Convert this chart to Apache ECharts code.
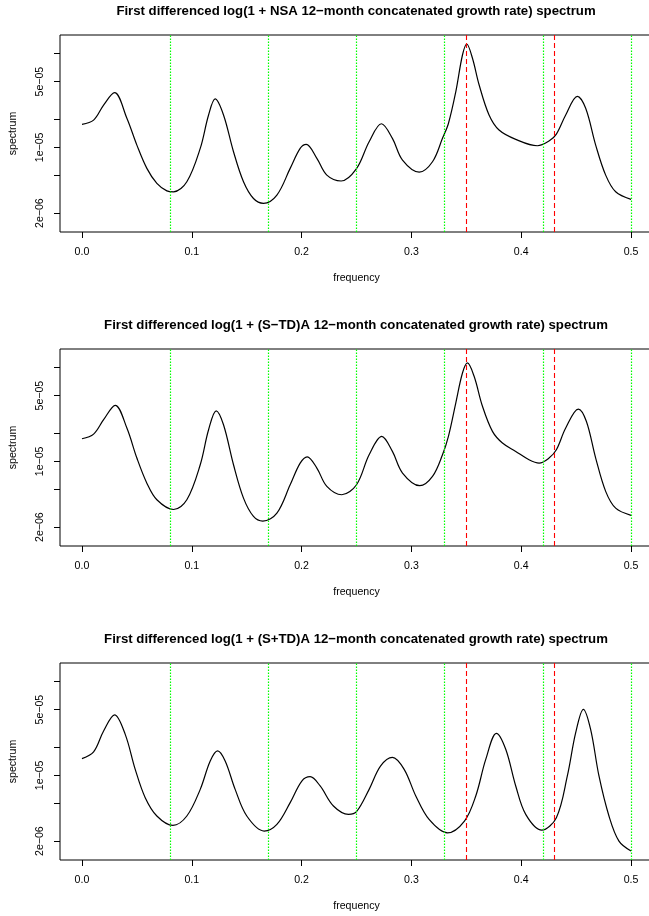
<!DOCTYPE html>
<html>
<head>
<meta charset="utf-8">
<script src="https://cdn.jsdelivr.net/npm/echarts@6/dist/echarts.min.js"></script>
<style>
html, body { margin: 0; padding: 0; background: #fff; }
#chart { width: 649px; height: 916px; }
</style>
</head>
<body>
<div id="chart"></div>
<script>
// spectrum values (frequency in cycles/month)
const freqNSA = [0, 0.0106, 0.0197, 0.0297, 0.0409, 0.05, 0.0591, 0.0682, 0.0773, 0.0834, 0.0955, 0.1077, 0.1153, 0.1213, 0.1289, 0.138, 0.1471, 0.1562, 0.1653, 0.1775, 0.1896, 0.1987, 0.2042, 0.2139, 0.223, 0.236, 0.25, 0.2615, 0.2727, 0.2827, 0.2919, 0.3071, 0.3192, 0.3283, 0.3337, 0.3404, 0.3465, 0.3504, 0.3556, 0.3617, 0.3707, 0.3798, 0.395, 0.4147, 0.4253, 0.432, 0.4405, 0.4511, 0.4587, 0.4678, 0.4769, 0.486, 0.5]
const specNSA = [1.758e-5, 1.95e-5, 2.818e-5, 3.81e-5, 2.04e-5, 1.057e-5, 5.98e-6, 4.14e-6, 3.45e-6, 3.37e-6, 4.31e-6, 9.75e-6, 2.21e-5, 3.27e-5, 2.21e-5, 8.98e-6, 4.31e-6, 2.86e-6, 2.54e-6, 3.11e-6, 5.98e-6, 9.75e-6, 1.076e-5, 7.64e-6, 5.07e-6, 4.39e-6, 5.94e-6, 1.148e-5, 1.782e-5, 1.247e-5, 7.33e-6, 5.46e-6, 7.03e-6, 1.247e-5, 1.795e-5, 3.9e-5, 9.59e-5, 1.256e-4, 8.85e-5, 4.6e-5, 2.21e-5, 1.528e-5, 1.216e-5, 1.04e-5, 1.167e-5, 1.384e-5, 2.21e-5, 3.49e-5, 2.6e-5, 1.057e-5, 5.07e-6, 3.37e-6, 2.8e-6]

const freqSTD = [0, 0.0106, 0.0197, 0.0303, 0.0409, 0.05, 0.0591, 0.0682, 0.0834, 0.0955, 0.1077, 0.1153, 0.1222, 0.1289, 0.138, 0.1471, 0.1562, 0.1647, 0.1775, 0.1896, 0.1987, 0.2051, 0.2139, 0.223, 0.2366, 0.25, 0.2615, 0.273, 0.2827, 0.2919, 0.3076, 0.3192, 0.3283, 0.3337, 0.3404, 0.3465, 0.351, 0.3571, 0.3647, 0.3738, 0.3829, 0.395, 0.4071, 0.4163, 0.4253, 0.432, 0.4405, 0.452, 0.4593, 0.4678, 0.4769, 0.486, 0.5]
const specSTD = [1.738e-5, 1.95e-5, 2.773e-5, 3.945e-5, 2.26e-5, 1.084e-5, 5.87e-6, 3.91e-6, 3.08e-6, 3.91e-6, 9.2e-6, 2.168e-5, 3.45e-5, 2.449e-5, 9.2e-6, 4.07e-6, 2.6e-6, 2.32e-6, 2.82e-6, 5.64e-6, 9.59e-6, 1.119e-5, 8.49e-6, 5.42e-6, 4.42e-6, 5.64e-6, 1.175e-5, 1.845e-5, 1.276e-5, 7.52e-6, 5.51e-6, 6.92e-6, 1.175e-5, 1.845e-5, 4.17e-5, 8.69e-5, 1.112e-4, 8.02e-5, 3.85e-5, 2.084e-5, 1.567e-5, 1.276e-5, 1.04e-5, 9.59e-6, 1.084e-5, 1.327e-5, 2.26e-5, 3.6e-5, 2.667e-5, 1.084e-5, 4.8e-6, 3.18e-6, 2.67e-6]

const freqSPTD = [0, 0.0106, 0.0197, 0.0297, 0.0394, 0.0485, 0.0576, 0.0682, 0.0828, 0.0955, 0.1077, 0.1168, 0.1235, 0.1304, 0.1395, 0.1501, 0.1659, 0.1775, 0.1896, 0.2002, 0.2078, 0.2169, 0.229, 0.2427, 0.25, 0.2615, 0.272, 0.2827, 0.2934, 0.304, 0.3161, 0.3328, 0.3483, 0.3586, 0.3677, 0.3774, 0.3859, 0.395, 0.4041, 0.4187, 0.432, 0.442, 0.4496, 0.4566, 0.4632, 0.4708, 0.4799, 0.489, 0.5]
const specSPTD = [1.507e-5, 1.774e-5, 2.965e-5, 4.4e-5, 2.729e-5, 1.159e-5, 5.79e-6, 3.7e-6, 2.94e-6, 3.7e-6, 7.1e-6, 1.422e-5, 1.82e-5, 1.422e-5, 7.1e-6, 3.7e-6, 2.56e-6, 3.01e-6, 5.13e-6, 8.71e-6, 9.68e-6, 7.71e-6, 4.72e-6, 3.85e-6, 4.11e-6, 7.1e-6, 1.259e-5, 1.552e-5, 1.159e-5, 6.04e-6, 3.4e-6, 2.45e-6, 3.27e-6, 6.04e-6, 1.479e-5, 2.8e-5, 1.892e-5, 7.71e-6, 3.85e-6, 2.62e-6, 3.55e-6, 9.86e-6, 2.84e-5, 5.04e-5, 3.08e-5, 9.86e-6, 3.7e-6, 2e-6, 1.57e-6]

const titles = [
  'First differenced log(1 + NSA 12\u2212month concatenated growth rate) spectrum',
  'First differenced log(1 + (S\u2212TD)A 12\u2212month concatenated growth rate) spectrum',
  'First differenced log(1 + (S+TD)A 12\u2212month concatenated growth rate) spectrum'
]
const xTicks = [0, 0.1, 0.2, 0.3, 0.4, 0.5]
const yTicks = [2e-6, 5e-6, 1e-5, 2e-5, 5e-5, 1e-4]
const yLabels = [2e-6, 1e-5, 5e-5]
const seasonalFreqs = [1 / 12, 2 / 12, 3 / 12, 4 / 12, 5 / 12, 6 / 12]
const tdFreqs = [0.348, 0.432]

const panels = [
  { freq: freqNSA, spec: specNSA },
  { freq: freqSTD, spec: specSTD },
  { freq: freqSPTD, spec: specSPTD }
]
const tops = [35, 349, 663]
const font = 'Liberation Sans, Arial, Helvetica, sans-serif'

function sciLabel (v) {
  const e = Math.floor(Math.log10(v) + 1e-9)
  const m = Math.round(v / Math.pow(10, e))
  const ex = Math.abs(e)
  return m + 'e' + (e < 0 ? '\u2212' : '+') + (ex < 10 ? '0' : '') + ex
}

// invisible copy of a spectrum that only carries vertical reference lines
function refLines (i, p, freqs, color, dash, width) {
  return {
    type: 'line',
    xAxisIndex: i,
    yAxisIndex: i,
    data: p.freq.map((f, k) => [f, p.spec[k]]),
    showSymbol: false,
    silent: true,
    z: 3,
    lineStyle: { opacity: 0 },
    markLine: {
      silent: true,
      symbol: 'none',
      label: { show: false },
      emphasis: { disabled: true },
      lineStyle: { color: color, type: dash, width: width, opacity: 1 },
      data: freqs.map(f => ({ xAxis: f }))
    }
  }
}

const myChart = echarts.init(document.getElementById('chart'), null, { renderer: 'canvas' })

let titleArr = []
let gridArr = []
let xArr = []
let yArr = []
let seriesArr = []

panels.forEach((p, i) => {
  titleArr.push({
    text: titles[i],
    left: 356,
    top: tops[i] - 30,
    padding: 0,
    textAlign: 'center',
    textStyle: { fontFamily: font, fontSize: 13.2, fontWeight: 'bold', color: '#000' }
  })
  gridArr.push({
    left: 60,
    top: tops[i],
    width: 593,
    height: 197,
    outerBoundsMode: 'none',
    containLabel: false,
    show: true,
    borderColor: '#000',
    borderWidth: 1,
    backgroundColor: 'transparent'
  })
  xArr.push({
    gridIndex: i,
    type: 'value',
    min: -0.02,
    max: 0.52,
    name: 'frequency',
    nameLocation: 'middle',
    nameGap: 41,
    nameTextStyle: { fontFamily: font, fontSize: 10.6, color: '#000' },
    splitLine: { show: false },
    axisLine: { show: false, onZero: false },
    axisTick: { show: true, length: 6, customValues: xTicks, lineStyle: { color: '#000' } },
    axisLabel: {
      customValues: xTicks,
      margin: 15,
      fontFamily: font,
      fontSize: 10.6,
      color: '#000',
      formatter: v => v.toFixed(1)
    }
  })
  yArr.push({
    gridIndex: i,
    type: 'log',
    logBase: 10,
    min: 1.26e-6,
    max: 1.565e-4,
    name: 'spectrum',
    nameLocation: 'middle',
    nameGap: 41,
    nameTextStyle: { fontFamily: font, fontSize: 10.6, color: '#000' },
    splitLine: { show: false },
    axisLine: { show: false, onZero: false },
    axisTick: { show: true, length: 6, customValues: yTicks, lineStyle: { color: '#000' } },
    axisLabel: {
      customValues: yLabels,
      rotate: 90,
      margin: 14,
      fontFamily: font,
      fontSize: 10.6,
      color: '#000',
      formatter: v => sciLabel(v)
    }
  })
  seriesArr.push({
    type: 'line',
    xAxisIndex: i,
    yAxisIndex: i,
    data: p.freq.map((f, k) => [f, p.spec[k]]),
    showSymbol: false,
    smooth: 0.35,
    z: 2,
    lineStyle: { color: '#000', width: 1.2 }
  })
  seriesArr.push(refLines(i, p, seasonalFreqs, '#00ff00', [1.5, 1.5], 1.2))
  seriesArr.push(refLines(i, p, tdFreqs, '#ff0000', [5, 3], 1.1))
})

var option = {
  animation: false,
  backgroundColor: '#fff',
  title: titleArr,
  grid: gridArr,
  xAxis: xArr,
  yAxis: yArr,
  series: seriesArr
}
myChart.setOption(option)
</script>
</body>
</html>
